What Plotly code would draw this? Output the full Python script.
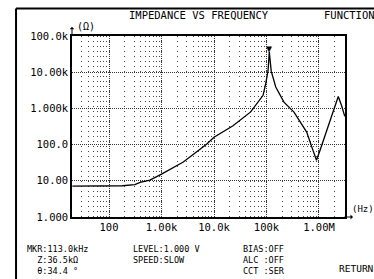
import numpy as np
import plotly.graph_objects as go

# ---- data ----
freq_hz = [20, 180, 310, 390, 600, 1000, 2600, 7200, 10000, 23000, 50000, 78000,
           86000, 97000, 107000, 113000, 118000, 123000, 150000, 215000, 334000,
           468000, 583000, 726000, 840000, 896000, 1040000, 1500000, 2020000,
           2330000, 2700000, 3100000]
impedance_ohm = [7.1, 7.3, 7.8, 9.0, 10.5, 15.3, 33, 102, 160, 330, 800, 2000,
                 2300, 5000, 11000, 36500, 17000, 10700, 3900, 1490, 790,
                 368, 221, 88, 45, 37, 68, 330, 1180,
                 2140, 1180, 600]

marker_freq = 113000
marker_z = 36500

y_tickvals = [1, 10, 100, 1000, 10000, 100000]
y_ticktext = ["1.000", "10.00", "100.0", "1.000k", "10.00k", "100.0k"]
x_tickvals = [100, 1000, 10000, 100000, 1000000]
x_ticktext = ["100", "1.00k", "10.0k", "100k", "1.00M"]

title_text = "IMPEDANCE VS FREQUENCY"
NB = "\u00a0"
info_blocks = [
    ("MKR:113.0kHz<br>" + NB * 2 + "Z:36.5kΩ<br>" + NB * 2 + "θ:34.4" + NB + "°", -0.1685),
    ("LEVEL:1.000" + NB + "V<br>SPEED:SLOW", 0.2198),
    ("BIAS:OFF<br>ALC" + NB + ":OFF<br>CCT" + NB + ":SER", 0.6227),
]

MONO = "DejaVu Sans Mono"

fig = go.Figure()
fig.add_trace(go.Scatter(
    x=freq_hz, y=impedance_ohm, mode="lines",
    line=dict(color="black", width=1.3), showlegend=False,
))

fig.update_layout(
    width=374, height=279,
    margin=dict(l=72, r=29, t=36, b=62),
    paper_bgcolor="white", plot_bgcolor="white",
    font=dict(family=MONO, size=10, color="black"),
    showlegend=False,
)

fig.update_xaxes(
    type="log",
    range=[np.log10(19.7), np.log10(3.13e6)],
    tickvals=x_tickvals, ticktext=x_ticktext,
    tickfont=dict(family=MONO, size=10.5, color="black"),
    showline=True, linecolor="black", linewidth=1.5, mirror=True,
    showgrid=True, gridcolor="#333", gridwidth=1, griddash="1px,1px",
    minor=dict(showgrid=True, dtick="D1", gridcolor="#444", gridwidth=1,
               griddash="1px,4px"),
    ticks="", zeroline=False,
)
fig.update_yaxes(
    type="log",
    range=[0, 5],
    tickvals=y_tickvals, ticktext=y_ticktext,
    tickfont=dict(family=MONO, size=10.5, color="black"),
    showline=True, linecolor="black", linewidth=1.5, mirror=True,
    showgrid=True, gridcolor="#333", gridwidth=1, griddash="1px,1px",
    ticks="", zeroline=False,
)

# outer instrument frame
fig.add_shape(type="line", xref="paper", yref="paper",
              x0=-0.205, x1=1.3, y0=1.152, y1=1.152,
              line=dict(color="black", width=2))
fig.add_shape(type="line", xref="paper", yref="paper",
              x0=-0.205, x1=-0.205, y0=1.152, y1=-0.4,
              line=dict(color="black", width=2))

# axis arrows
fig.add_annotation(xref="paper", yref="paper", x=0, y=1.05, ax=0, ay=10,
                   text="", showarrow=True, arrowhead=1, arrowsize=0.8,
                   arrowwidth=1, arrowcolor="black")
fig.add_annotation(xref="paper", yref="paper", x=1.029, y=0, ax=-10, ay=0,
                   text="", showarrow=True, arrowhead=1, arrowsize=0.8,
                   arrowwidth=1, arrowcolor="black")

fig.add_annotation(xref="paper", yref="paper", x=0.01, y=1.05,
                   xanchor="left", yanchor="middle", text="(Ω)",
                   showarrow=False, font=dict(family=MONO, size=10))
fig.add_annotation(xref="paper", yref="paper", x=1.022, y=0.044,
                   xanchor="left", yanchor="middle", text="(Hz)",
                   showarrow=False, borderpad=0, font=dict(family=MONO, size=9))

fig.add_annotation(xref="paper", yref="paper", x=0.467, y=1.116,
                   xanchor="center", yanchor="middle", text=title_text,
                   showarrow=False, font=dict(family=MONO, size=10.5))
fig.add_annotation(xref="paper", yref="paper", x=0.916, y=1.116,
                   xanchor="left", yanchor="middle", text="FUNCTION",
                   showarrow=False, font=dict(family=MONO, size=10.5))

# marker triangle at resonance
fig.add_annotation(x=np.log10(marker_freq), y=np.log10(marker_z),
                   xanchor="center", yanchor="bottom", text="▼", yshift=-4,
                   showarrow=False, font=dict(family=MONO, size=10, color="black"))

for txt, px in info_blocks:
    fig.add_annotation(xref="paper", yref="paper", x=px, y=-0.145,
                       xanchor="left", yanchor="top", text=txt, align="left",
                       showarrow=False, borderpad=0,
                       font=dict(family=MONO, size=8.5))

fig.add_annotation(xref="paper", yref="paper", x=0.9707, y=-0.282,
                   xanchor="left", yanchor="middle", text="RETURN",
                   showarrow=False, font=dict(family=MONO, size=9.5))

fig.write_html(
    "out.html",
    config={"displayModeBar": False},
    post_script="document.body.style.margin='0';document.body.style.overflow='hidden';",
)
